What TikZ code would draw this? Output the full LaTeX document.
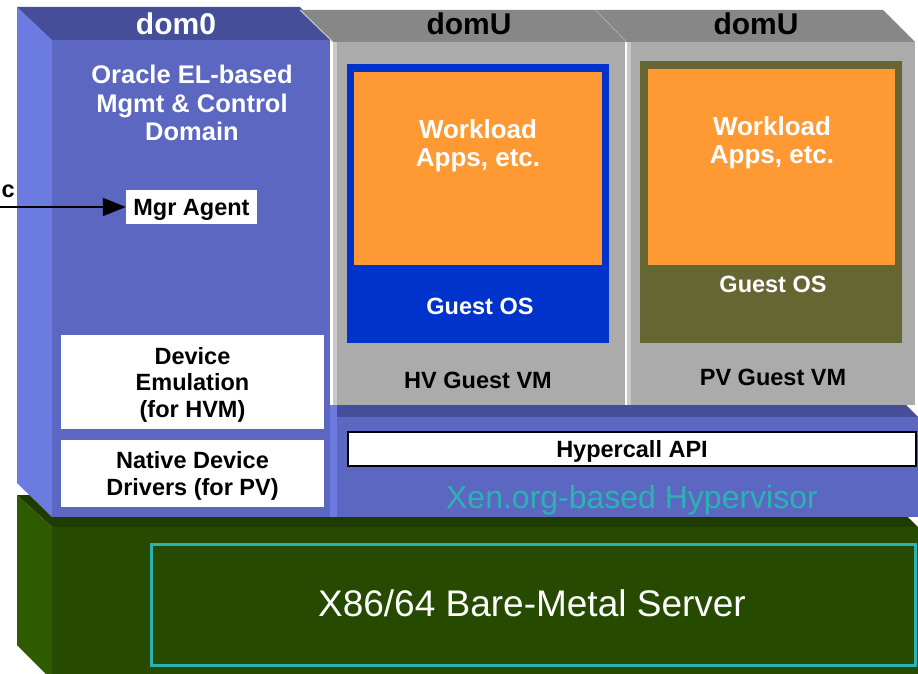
\documentclass[tikz,border=0pt]{standalone}
\usepackage{fontspec}
\setmainfont{Liberation Sans}
\usetikzlibrary{arrows.meta}

\definecolor{zerofront}{HTML}{5B67C0}
\definecolor{zerotop}{HTML}{454F99}
\definecolor{zeroside}{HTML}{6B7BE0}
\definecolor{ufront}{HTML}{ABABAB}
\definecolor{utop}{HTML}{878787}
\definecolor{uedge}{HTML}{C9C9C9}
\definecolor{srvfront}{HTML}{264A00}
\definecolor{srvtop}{HTML}{1E3C00}
\definecolor{srvside}{HTML}{2E5A00}
\definecolor{tealline}{HTML}{2BB3B3}
\definecolor{apporange}{HTML}{FF9933}
\definecolor{hvblue}{HTML}{0033CC}
\definecolor{pvolive}{HTML}{666633}

\begin{document}
\begin{tikzpicture}[
    x=1pt, y=-1pt,
    every node/.style={inner sep=0pt, align=center},
    lbl/.style={font=\bfseries\fontsize{23.5}{26.5}\selectfont},
    whitebox/.style={lbl, fill=white, text depth=0pt},
    domlbl/.style={font=\bfseries\fontsize{30}{32}\selectfont},
    applbl/.style={font=\bfseries\fontsize{26}{28.5}\selectfont, text=white},
    appbox/.style={fill=apporange, minimum width=248pt, minimum height=194pt},
    feed/.style={line width=2pt, -{Triangle[length=23pt, width=18pt]}}
]

\useasboundingbox (0,0) rectangle (918,674);

% ----- server -----
\fill[srvtop] (17,495) -- (885,495) -- (918,527) -- (52,527) -- cycle;
\fill[srvside] (17,495) -- (52,527) -- (52,680) -- (17,645) -- cycle;
\fill[srvfront] (52,527) rectangle (920,676);
\node[draw=tealline, line width=3pt, minimum width=764pt, minimum height=121pt] (srvbox) at (533,604.5) {};
\node[font=\fontsize{37}{40}\selectfont, text=white] (srv) at (532,603.5) {X86/64 Bare-Metal Server};

% ----- hypervisor -----
\fill[zerotop] (333,405) -- (906,405) -- (918,417) -- (333,417) -- cycle;
\fill[zerofront] (333,417) rectangle (920,517);
\fill[zeroside] (330,405) rectangle (337,517);
\node[whitebox, draw=black, line width=1.5pt, minimum width=568pt, minimum height=34pt] (api) at (632,449) {Hypercall API};
\node[font=\fontsize{32}{34}\selectfont, text=tealline] (xen) at (632,500) {Xen.org-based Hypervisor};

% ----- dom0 -----
\fill[zeroside] (17,7) -- (52,40) -- (52,517) -- (17,483) -- cycle;
\fill[zerotop] (17,7) -- (300,7) -- (332,40) -- (52,40) -- cycle;
\fill[zerofront] (52,40) rectangle (330,517);
\node[domlbl, text=white] (dom0) at (176,24) {dom0};
\node[font=\bfseries\fontsize{25.5}{28.5}\selectfont, text=white] (ctrl) at (192,103) {Oracle EL-based\\Mgmt \& Control\\Domain};
\node[whitebox, minimum width=131pt, minimum height=34pt] (mgr) at (191.5,207) {Mgr Agent};
\node[whitebox, minimum width=263pt, minimum height=94pt] (emu) at (192.5,382) {Device\\Emulation\\(for HVM)};
\node[whitebox, minimum width=263pt, minimum height=67pt] (drv) at (192.5,473.5) {Native Device\\Drivers (for PV)};
\node[lbl, anchor=base east] (ext) at (15,197) {c};
\coordinate (extin) at (-2,207);
\draw[feed] (extin) -- (mgr.west);

% ----- domU (PV) -----
\fill[utop] (595,10) -- (883,10) -- (915,42) -- (626,42) -- cycle;
\draw[uedge, line width=1pt] (595,10) -- (626,42);
\fill[ufront] (627,42) rectangle (915,405);
\fill[uedge] (627,42) rectangle (631,405);
\node[domlbl] (domu2) at (756,24) {domU};
\node[fill=pvolive, minimum width=262pt, minimum height=282pt] (pvos) at (771,202) {};
\node[appbox, minimum width=247pt, minimum height=196pt] (pvapp) at (771.5,167) {};
\node[applbl] (pvwork) at (772,143) {Workload\\Apps, etc.};
\node[lbl, text=white] (pvguest) at (773,284) {Guest OS};
\node[lbl] (pvvm) at (773,377) {PV Guest VM};

% ----- domU (HV) -----
\fill[utop] (300,10) -- (595,10) -- (626,42) -- (333,42) -- cycle;
\draw[uedge, line width=1pt] (300,10) -- (333,42);
\fill[ufront] (333,42) rectangle (625,405);
\fill[uedge] (333,42) rectangle (337,405);
\node[domlbl] (domu1) at (469,24) {domU};
\node[fill=hvblue, minimum width=262pt, minimum height=279pt] (hvos) at (478,203.5) {};
\node[appbox, minimum height=193pt] (hvapp) at (478,168.5) {};
\node[applbl] (hvwork) at (478,146) {Workload\\Apps, etc.};
\node[lbl, text=white] (hvguest) at (480,306) {Guest OS};
\node[lbl] (hvvm) at (478,380) {HV Guest VM};

\end{tikzpicture}
\end{document}
